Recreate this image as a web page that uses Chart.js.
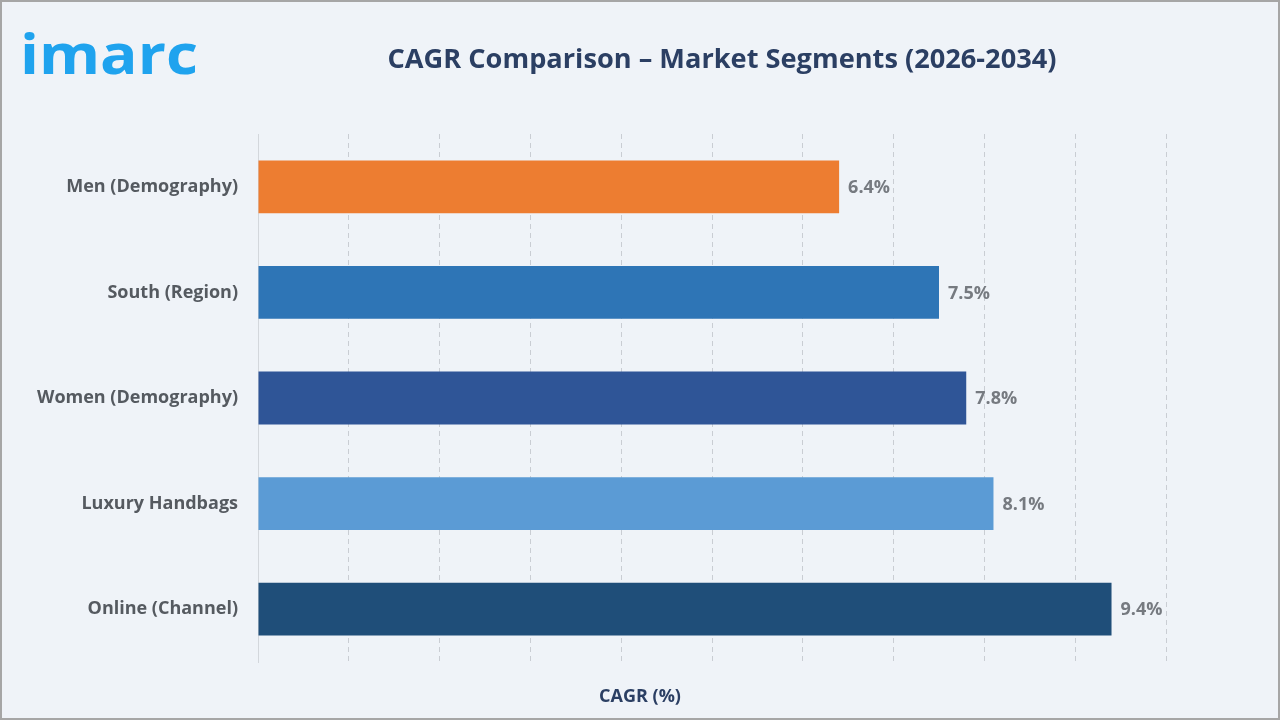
<!DOCTYPE html>
<html lang="en">
<head>
  <meta charset="UTF-8" />
  <title>CAGR Comparison</title>
  <script src="https://cdn.jsdelivr.net/npm/chart.js"></script>
  <style>
    html, body { margin: 0; padding: 0; background: #eff3f8; }
    #wrap { width: 1280px; height: 720px; position: relative; }
  </style>
</head>
<body>
  <div id="wrap"><canvas id="chart" width="1280" height="720"></canvas></div>

  <script>
    // chart data
    const segments = ['Men (Demography)', 'South (Region)', 'Women (Demography)', 'Luxury Handbags', 'Online (Channel)'];
    const cagrValues = [6.4, 7.5, 7.8, 8.1, 9.4];
    const barColors = ['#ed7d31', '#2e75b6', '#2f5597', '#5b9bd5', '#1f4e79'];
    const xTicks = [0, 1, 2, 3, 4, 5, 6, 7, 8, 9, 10];

    const chartTitle = 'CAGR Comparison – Market Segments (2026-2034)';
    const axisTitle = 'CAGR (%)';

    const FONT = '"Open Sans", "DejaVu Sans", sans-serif';

    // background, title, logo, value labels, frame
    const decor = {
      id: 'decor',
      beforeDraw(chart) {
        const ctx = chart.ctx;
        ctx.save();
        ctx.fillStyle = '#eff3f8';
        ctx.fillRect(0, 0, chart.width, chart.height);
        ctx.restore();
      },
      afterDraw(chart) {
        const ctx = chart.ctx;
        ctx.save();

        // logo
        ctx.fillStyle = '#1fa3ee';
        ctx.font = 'bold 56px ' + FONT;
        ctx.textBaseline = 'alphabetic';
        ctx.textAlign = 'left';
        const w = ctx.measureText('imarc').width;
        ctx.save();
        ctx.translate(20, 74);
        ctx.scale(178 / w, 1);
        ctx.fillText('imarc', 0, 0);
        ctx.restore();

        // title
        ctx.fillStyle = '#2b3f63';
        ctx.font = 'bold 27px ' + FONT;
        ctx.textAlign = 'center';
        ctx.textBaseline = 'middle';
        const tw = ctx.measureText(chartTitle).width;
        ctx.save();
        ctx.translate(722, 60);
        ctx.scale(669 / tw, 1);
        ctx.fillText(chartTitle, 0, 0);
        ctx.restore();

        // axis title
        ctx.font = 'bold 18px ' + FONT;
        ctx.fillText(axisTitle, 640, 697);

        // value labels
        const meta = chart.getDatasetMeta(0);
        ctx.fillStyle = '#767a80';
        ctx.font = 'bold 18px ' + FONT;
        ctx.textAlign = 'left';
        meta.data.forEach((bar, i) => {
          ctx.fillText(cagrValues[i].toFixed(1) + '%', bar.x + 9, bar.y + 1);
        });

        // frame
        ctx.strokeStyle = '#a6a6a6';
        ctx.lineWidth = 2;
        ctx.strokeRect(1, 1, chart.width - 2, chart.height - 2);
        ctx.restore();
      }
    };

    new Chart(document.getElementById('chart'), {
      type: 'bar',
      data: {
        labels: segments,
        datasets: [{
          data: cagrValues,
          backgroundColor: barColors,
          barPercentage: 1,
          categoryPercentage: 0.5
        }]
      },
      options: {
        indexAxis: 'y',
        responsive: false,
        animation: false,
        layout: { padding: { top: 134, right: 114, bottom: 58, left: 0 } },
        plugins: {
          legend: { display: false },
          tooltip: { enabled: false }
        },
        scales: {
          x: {
            min: 0,
            max: 10,
            afterBuildTicks: (scale) => { scale.ticks = xTicks.map(v => ({ value: v })); },
            afterFit: (scale) => { scale.height = 0; },
            ticks: { display: false },
            grid: { color: '#c9cdd3', lineWidth: 1, drawTicks: false },
            border: { display: false, dash: [5, 4] }
          },
          y: {
            afterFit: (scale) => { scale.width = 258; },
            grid: { display: false },
            border: { display: true, color: '#d3d7dc', width: 1 },
            ticks: {
              color: '#555a60',
              padding: 12,
              font: { family: FONT, size: 18, weight: 'bold' }
            }
          }
        }
      },
      plugins: [decor]
    });
  </script>
</body>
</html>
